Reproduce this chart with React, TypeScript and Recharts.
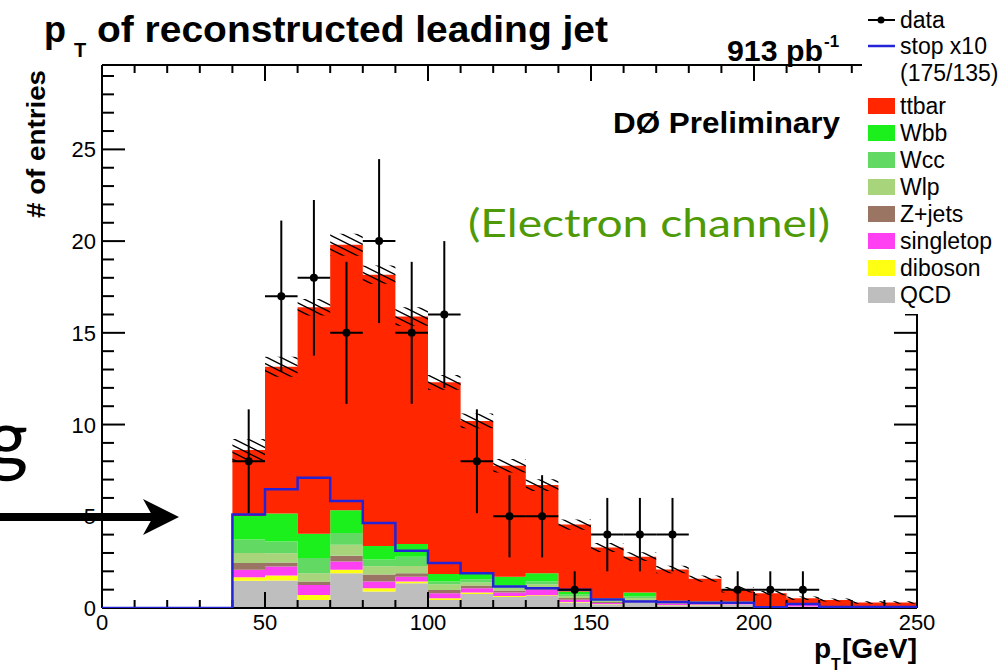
import { ComposedChart, Area, Line, Scatter, ErrorBar, XAxis, YAxis } from 'recharts';

const W = 1005;
const H = 672;
const MARGIN = { top: 65, right: 88, bottom: 64, left: 102 };
// frame axes are 1px thick, so their chart gets 1px less margin on every side
const FRAME_MARGIN = { top: 64, right: 87, bottom: 63, left: 101 };
const X_MAX = 250;
const Y_MAX = 29.6;
const SANS = '"Liberation Sans", Arial, Helvetica, sans-serif';

// lower edge of every 10 GeV bin
const binLow = [0, 10, 20, 30, 40, 50, 60, 70, 80, 90, 100, 110, 120, 130, 140, 150, 160, 170, 180, 190, 200, 210, 220, 230, 240];

// expected entries per bin, one array per background
const qcd = [0, 0, 0, 0, 1.48, 1.5, 0.44, 1.9, 0.9, 1.35, 0.44, 0.77, 0.6, 0.65, 0.3, 0.2, 0.3, 0.15, 0.15, 0.18, 0.02, 0.08, 0.02, 0.02, 0.02];
const diboson = [0, 0, 0, 0, 0.2, 0.27, 0.27, 0.18, 0.18, 0.09, 0.09, 0.07, 0.05, 0.05, 0.03, 0.02, 0.02, 0.01, 0.01, 0.01, 0, 0, 0, 0, 0];
const singletop = [0, 0, 0, 0, 0.4, 0.49, 0.55, 0.46, 0.37, 0.27, 0.27, 0.24, 0.2, 0.3, 0.12, 0.05, 0.05, 0.08, 0.05, 0.04, 0.02, 0.08, 0.01, 0.01, 0.01];
const zjets = [0, 0, 0, 0, 0.37, 0.22, 0.18, 0.31, 0.37, 0.18, 0.18, 0.15, 0.1, 0.1, 0.1, 0.06, 0.05, 0.04, 0.04, 0.04, 0.01, 0.03, 0.01, 0.01, 0.01];
const wlp = [0, 0, 0, 0, 0.55, 0.51, 0.46, 0.6, 0.46, 0.4, 0.31, 0.16, 0.15, 0.2, 0.1, 0.06, 0.12, 0.05, 0.04, 0.03, 0.01, 0.03, 0.01, 0.01, 0.01];
const wcc = [0, 0, 0, 0, 0.73, 0.64, 0.82, 0.64, 0.37, 0.51, 0.15, 0.18, 0.15, 0.15, 0.1, 0.06, 0.1, 0.04, 0.03, 0.02, 0.01, 0.02, 0, 0, 0];
const wbb = [0, 0, 0, 0, 1.28, 1.52, 1.33, 1.24, 0.73, 0.69, 0.42, 0.29, 0.45, 0.45, 0.15, 0.08, 0.2, 0.03, 0.03, 0.03, 0.01, 0.01, 0, 0, 0];
const ttbar = [0, 0, 0, 0, 3.6, 8.0, 12.35, 14.47, 14.79, 12.4, 10.44, 8.34, 6.05, 4.8, 3.65, 2.77, 1.96, 1.7, 1.25, 0.65, 0.73, 0.28, 0.39, 0.25, 0.25];

// half width of the hatched uncertainty band on the summed prediction
const mcErr = [0, 0, 0, 0, 0.6, 0.55, 0.45, 0.6, 0.5, 0.5, 0.4, 0.4, 0.37, 0.32, 0.28, 0.25, 0.24, 0.2, 0.17, 0.15, 0.12, 0.1, 0.08, 0.07, 0.07];

// signal (175/135) scaled by 10
const stopX10 = [0, 0, 0, 0, 5.1, 6.47, 7.1, 5.83, 4.64, 3.12, 2.45, 1.9, 1.17, 1.08, 0.99, 0.47, 0.35, 0.33, 0.29, 0.29, 0.04, 0.22, 0.05, 0.05, 0.05];

// observed events (bin centres, counts, Poisson errors)
const dataCenters = [45, 55, 65, 75, 85, 95, 105, 115, 125, 135, 145, 155, 165, 175, 195, 205, 215];
const dataCounts = [8, 17, 18, 15, 20, 15, 16, 8, 5, 5, 1, 4, 4, 4, 1, 1, 1];
const dataErr = [2.83, 4.12, 4.24, 3.87, 4.47, 3.87, 4, 2.83, 2.24, 2.24, 1, 2, 2, 2, 1, 1, 1];
const BIN_HALF = 5;

const xTicks = [0, 10, 20, 30, 40, 50, 60, 70, 80, 90, 100, 110, 120, 130, 140, 150, 160, 170, 180, 190, 200, 210, 220, 230, 240, 250];
const xMajorTicks = [0, 50, 100, 150, 200, 250];
const yTicks = [0, 1, 2, 3, 4, 5, 6, 7, 8, 9, 10, 11, 12, 13, 14, 15, 16, 17, 18, 19, 20, 21, 22, 23, 24, 25, 26, 27, 28, 29];
const yMajorTicks = [0, 5, 10, 15, 20, 25];

// stacking order, bottom first
const stackKeys = ['qcd', 'diboson', 'singletop', 'zjets', 'wlp', 'wcc', 'wbb', 'ttbar'];
const stackColors = ['#bebebe', '#ffff14', '#ff40f2', '#9a7563', '#a8d47c', '#62d962', '#1cf01c', '#ff2600'];

const legendNames = ['ttbar', 'Wbb', 'Wcc', 'Wlp', 'Z+jets', 'singletop', 'diboson', 'QCD'];
const legendColors = ['#ff2600', '#1cf01c', '#62d962', '#a8d47c', '#9a7563', '#ff40f2', '#ffff14', '#bebebe'];

const STOP_COLOR = '#2424d6';

const rows = binLow.map((x, i) => {
  const total = qcd[i] + diboson[i] + singletop[i] + zjets[i] + wlp[i] + wcc[i] + wbb[i] + ttbar[i];
  return {
    x,
    qcd: qcd[i],
    diboson: diboson[i],
    singletop: singletop[i],
    zjets: zjets[i],
    wlp: wlp[i],
    wcc: wcc[i],
    wbb: wbb[i],
    ttbar: ttbar[i],
    band: [total - mcErr[i], total + mcErr[i]],
    stop: stopX10[i],
  };
});
// closing edge so the last step is drawn to 250
rows.push({ ...rows[rows.length - 1], x: X_MAX });

const points = dataCenters.map((x, i) => ({ x, y: dataCounts[i], yErr: dataErr[i], xErr: BIN_HALF }));

const layer: React.CSSProperties = { position: 'absolute', left: 0, top: 0 };
const axisStroke = { stroke: '#000', strokeWidth: 2 };

function HiddenAxes() {
  return (
    <>
      <XAxis dataKey="x" type="number" domain={[0, X_MAX]} allowDataOverflow hide />
      <YAxis type="number" domain={[0, Y_MAX]} allowDataOverflow hide />
    </>
  );
}

function Histogram() {
  return (
    <ComposedChart width={W} height={H} data={rows} margin={MARGIN}>
      <defs>
        <pattern id="mcHatch" width="14" height="7" patternUnits="userSpaceOnUse">
          <path d="M-2,-1 L16,8 M-16,-1 L2,8 M12,-1 L30,8" stroke="#000" strokeWidth="1.4" />
        </pattern>
      </defs>
      {HiddenAxes()}
      {stackKeys.map((k, i) => (
        <Area
          key={k}
          type="stepAfter"
          dataKey={k}
          stackId="mc"
          fill={stackColors[i]}
          fillOpacity={1}
          stroke="none"
          dot={false}
          activeDot={false}
          isAnimationActive={false}
        />
      ))}
      <Area
        type="stepAfter"
        dataKey="band"
        fill="url(#mcHatch)"
        fillOpacity={1}
        stroke="none"
        dot={false}
        activeDot={false}
        isAnimationActive={false}
      />
    </ComposedChart>
  );
}

// inward ticks, long on the labelled values; labels only on bottom and left
const xTick = (side: 'bottom' | 'top') => (p: any) => {
  const v = p.payload.value;
  const major = xMajorTicks.includes(v);
  const dir = side === 'bottom' ? -1 : 1;
  return (
    <g>
      <line x1={p.x} y1={p.y} x2={p.x} y2={p.y + dir * (major ? 16 : 8)} stroke="#000" strokeWidth={2} />
      {side === 'bottom' && major && (
        <text x={p.x} y={p.y + 22} textAnchor="middle" fontSize={22} fontFamily={SANS} fill="#000">{v}</text>
      )}
    </g>
  );
};

const yTick = (side: 'left' | 'right') => (p: any) => {
  const v = p.payload.value;
  const major = yMajorTicks.includes(v);
  const dir = side === 'left' ? 1 : -1;
  return (
    <g>
      <line x1={p.x} y1={p.y} x2={p.x + dir * (major ? 23 : 12)} y2={p.y} stroke="#000" strokeWidth={2} />
      {side === 'left' && major && (
        <text x={p.x - 6} y={p.y + 8} textAnchor="end" fontSize={22} fontFamily={SANS} fill="#000">{v}</text>
      )}
    </g>
  );
};

function Frame() {
  const common = { type: 'number' as const, allowDataOverflow: true, interval: 0 as const, tickSize: 0, tickMargin: 0, tickLine: false, axisLine: axisStroke };
  return (
    <ComposedChart width={W} height={H} data={rows} margin={FRAME_MARGIN}>
      <XAxis xAxisId="bottom" {...common} dataKey="x" domain={[0, X_MAX]} ticks={xTicks} height={1} tick={xTick('bottom')} />
      <XAxis xAxisId="top" orientation="top" {...common} dataKey="x" domain={[0, X_MAX]} ticks={xTicks} height={1} tick={xTick('top')} />
      <YAxis yAxisId="left" {...common} domain={[0, Y_MAX]} ticks={yTicks} width={1} tick={yTick('left')} />
      <YAxis yAxisId="right" orientation="right" {...common} domain={[0, Y_MAX]} ticks={yTicks} width={1} tick={yTick('right')} />
      {/* invisible series so every axis is in use */}
      <Line xAxisId="bottom" yAxisId="left" dataKey="stop" stroke="none" dot={false} activeDot={false} isAnimationActive={false} />
      <Line xAxisId="top" yAxisId="right" dataKey="stop" stroke="none" dot={false} activeDot={false} isAnimationActive={false} />
    </ComposedChart>
  );
}

function DataOverlay() {
  return (
    <ComposedChart width={W} height={H} data={rows} margin={MARGIN}>
      {HiddenAxes()}
      <Line type="stepAfter" dataKey="stop" stroke={STOP_COLOR} strokeWidth={2.5} dot={false} activeDot={false} isAnimationActive={false} />
      <Scatter
        data={points}
        dataKey="y"
        isAnimationActive={false}
        shape={(p: any) => <circle cx={p.cx} cy={p.cy} r={4} fill="#000" />}
      >
        <ErrorBar dataKey="yErr" direction="y" width={0} stroke="#000" strokeWidth={2} />
        <ErrorBar dataKey="xErr" direction="x" width={0} stroke="#000" strokeWidth={2} />
      </Scatter>
    </ComposedChart>
  );
}

function Annotations() {
  return (
    <svg width={W} height={H} style={layer}>
      <g fontFamily={SANS} fontWeight="bold" fill="#000">
        <text x={44} y={42} fontSize={36}>p</text>
        <text x={74} y={57} fontSize={20}>T</text>
        <text x={97} y={42} fontSize={36} textLength={511} lengthAdjust="spacingAndGlyphs">of reconstructed leading jet</text>
        <text x={727} y={61} fontSize={30} textLength={96} lengthAdjust="spacingAndGlyphs">913 pb</text>
        <text x={824} y={47} fontSize={17}>-1</text>
        <text x={613} y={133} fontSize={29} textLength={227} lengthAdjust="spacingAndGlyphs">DØ Preliminary</text>
        <text transform="translate(45,144) rotate(-90)" textAnchor="middle" fontSize={25} textLength={148} lengthAdjust="spacingAndGlyphs"># of entries</text>
        <text x={814} y={658} fontSize={28}>p</text>
        <text x={831} y={670} fontSize={16}>T</text>
        <text x={842} y={658} fontSize={28} textLength={75} lengthAdjust="spacingAndGlyphs">[GeV]</text>
      </g>
      <text x={468} y={237} fontSize={38} fontFamily="Lato, 'Open Sans', sans-serif" fill="#4e9a06" textLength={362} lengthAdjust="spacingAndGlyphs">(Electron channel)</text>
      {/* slide text and pointer beside the plot */}
      <text x={28} y={466} fontSize={80} fontFamily="Lato, sans-serif" textAnchor="end" fill="#000">g</text>
      <line x1={0} y1={517} x2={155} y2={517} stroke="#000" strokeWidth={8} />
      <path d="M179,517 L143,499 L153,517 L143,535 Z" fill="#000" />
    </svg>
  );
}

function LegendBox() {
  const x0 = 868;
  const tx = 900;
  const mcY = [106, 133, 160, 187, 214, 241, 268, 295];
  return (
    <svg width={W} height={H} style={layer}>
      <rect x={862} y={0} width={143} height={314} fill="#fff" />
      <g fontFamily={SANS} fontSize={23} fill="#000" dominantBaseline="central">
        <line x1={x0} y1={20} x2={x0 + 27} y2={20} stroke="#000" strokeWidth={2} />
        <circle cx={x0 + 13} cy={20} r={3.5} fill="#000" />
        <text x={tx} y={20}>data</text>
        <line x1={x0} y1={46} x2={x0 + 27} y2={46} stroke={STOP_COLOR} strokeWidth={2.5} />
        <text x={tx} y={46}>stop x10</text>
        <text x={tx} y={73}>(175/135)</text>
        {legendNames.map((n, i) => (
          <g key={n}>
            <rect x={x0} y={mcY[i] - 8} width={27} height={16} fill={legendColors[i]} />
            <text x={tx} y={mcY[i]}>{n}</text>
          </g>
        ))}
      </g>
    </svg>
  );
}

export default function App() {
  return (
    <div style={{ position: 'absolute', left: 0, top: 0, width: W, height: H, background: '#fff' }}>
      <div style={layer}><Histogram /></div>
      <div style={layer}><Frame /></div>
      <div style={layer}><DataOverlay /></div>
      <Annotations />
      <LegendBox />
    </div>
  );
}
